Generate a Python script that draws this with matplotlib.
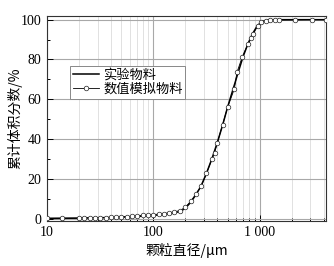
import matplotlib
matplotlib.use("Agg")
import matplotlib.pyplot as plt
from matplotlib.ticker import LogLocator, FixedLocator, FuncFormatter, NullFormatter

plt.rcParams['font.family'] = ['Liberation Serif', 'Noto Sans CJK SC', 'DejaVu Sans']
plt.rcParams['mathtext.fontset'] = 'stix'

# experimental material (solid line)
exp_d = [10, 20, 40, 60, 80, 100, 125, 150, 180, 200, 225, 250, 280, 315, 355, 400,
         450, 500, 560, 630, 700, 780, 850, 950, 1050, 1200, 1500, 4200]
exp_v = [0.0, 0.2, 0.5, 0.8, 1.2, 1.6, 2.0, 2.6, 3.6, 5.2, 8.2, 11.8, 16.2, 22.6, 30.0, 38.3,
         47.3, 56.2, 64.8, 73.8, 81.6, 88.2, 92.6, 97.0, 99.0, 99.8, 100.0, 100.0]

# numerical simulation material (line + open circles)
sim_d = [10, 13.9, 20, 22.4, 25.1, 28.2, 31.6, 35.5, 39.8, 44.7, 50.1, 56.2, 63.1, 70.8,
         79.4, 89.1, 100, 112, 126, 141, 158, 178, 200, 224, 251, 282, 316, 355, 376,
         398, 447, 501, 578, 611, 687, 777, 836, 865, 964, 1038, 1140, 1262, 1386, 1521,
         2138, 3073, 4200]
sim_v = [0.2, 0.2, 0.2, 0.3, 0.3, 0.4, 0.4, 0.5, 0.6, 0.7, 0.9, 1.0, 1.2, 1.4,
         1.6, 1.8, 2.0, 2.2, 2.5, 2.9, 3.4, 4.0, 5.7, 8.6, 12.2, 16.2, 22.7, 29.8, 33.0,
         37.8, 47.1, 56.3, 65.2, 73.5, 81.4, 87.8, 90.8, 92.8, 97.0, 98.6, 99.5, 99.6, 99.7, 99.8,
         99.9, 100.0, 100.0]

legend_labels = ['实验物料', '数值模拟物料']
x_ticks = [10, 100, 1000]
x_tick_labels = ['10', '100', '1 000']
y_ticks = [0, 20, 40, 60, 80, 100]

fig = plt.figure(figsize=(3.34, 2.66), dpi=100)
ax = fig.add_axes([0.1407, 0.171, 0.8353, 0.770])

ax.plot(exp_d, exp_v, color='black', lw=1.1, label=legend_labels[0], zorder=3)
ax.plot(sim_d, sim_v, color='black', lw=0.6, marker='o', ms=3.3, mfc='white',
        mec='#222222', mew=0.5, label=legend_labels[1], zorder=4)

ax.set_xscale('log')
ax.set_xlim(10, 4200)
ax.set_ylim(-1, 102)

ax.xaxis.set_major_locator(FixedLocator(x_ticks))
ax.xaxis.set_major_formatter(FuncFormatter(lambda v, p: x_tick_labels[x_ticks.index(int(round(v)))] if int(round(v)) in x_ticks else ''))
ax.xaxis.set_minor_locator(LogLocator(base=10, subs=range(2, 10)))
ax.xaxis.set_minor_formatter(NullFormatter())
ax.set_yticks(y_ticks)
ax.set_yticks([10, 30, 50, 70, 90], minor=True)

ax.tick_params(axis='both', which='both', direction='in', top=False, right=False,
               labelsize=10, pad=4, width=0.7)
ax.tick_params(which='major', length=4)
ax.tick_params(which='minor', length=2.5)

ax.grid(True, which='major', axis='both', color='#a8a8a8', lw=0.8, zorder=0)
ax.grid(True, which='minor', axis='x', color='#dcdcdc', lw=0.6, zorder=0)

for s in ax.spines.values():
    s.set_linewidth(0.8)
    s.set_color('#333333')

ax.set_xlabel('颗粒直径/μm', fontsize=10, family=['Noto Sans CJK SC', 'DejaVu Sans'], labelpad=3)
ax.set_ylabel('累计体积分数/%', fontsize=10, family=['Noto Sans CJK SC', 'DejaVu Sans'])
ax.yaxis.set_label_coords(-0.09, 0.5)

leg = ax.legend(loc='upper left', bbox_to_anchor=(70/334, 1 - 66/266),
                bbox_transform=fig.transFigure, frameon=True, fancybox=False,
                edgecolor='#888888', framealpha=1, borderpad=0.2, labelspacing=0.1,
                handlelength=2.0, handletextpad=0.3, borderaxespad=0,
                prop={'family': ['Noto Sans CJK SC', 'DejaVu Sans'], 'size': 9.5})
leg.get_frame().set_linewidth(0.7)

fig.savefig('out.png', dpi=100)
